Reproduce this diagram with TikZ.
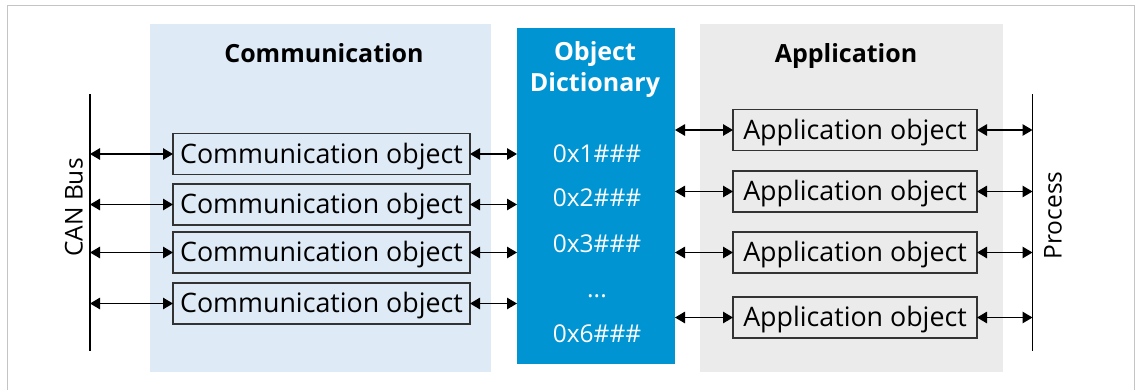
\documentclass[tikz,border=0pt]{standalone}
\usepackage{fontspec}
\setmainfont{Open Sans}
\usetikzlibrary{arrows.meta}
\definecolor{commbg}{HTML}{DEEAF6}
\definecolor{appbg}{HTML}{EBEBEB}
\definecolor{odblue}{HTML}{0094D2}
\definecolor{boxline}{HTML}{333333}
\definecolor{framegray}{HTML}{C4C4C4}
\begin{document}
\begin{tikzpicture}[x=1pt,y=-1pt,
  panel/.style={inner sep=0pt, outer sep=0pt, draw=none},
  heading/.style={font=\bfseries\fontsize{25}{30}\selectfont, anchor=base, inner sep=0pt},
  odtext/.style={text=white, font=\fontsize{24.5}{30}\selectfont, anchor=base, inner sep=0pt},
  objbox/.style={draw=boxline, line width=1.3pt, minimum height=41pt, inner sep=0pt, outer sep=0pt,
    text height=20pt, text depth=2pt, font=\fontsize{26.8}{30}\selectfont},
  sidelabel/.style={font=\fontsize{24.5}{30}\selectfont, rotate=90, anchor=base, inner sep=0pt},
  busline/.style={line width=1.8pt, black},
  conn/.style={line width=1.2pt, black, {Triangle[length=10pt,width=11.5pt]}-{Triangle[length=10pt,width=11.5pt]}}
]
\useasboundingbox (0,0) rectangle (1138,389);
% outer frame
\draw[framegray, line width=1.6pt] (7.5,5.5) rectangle (1134.5,400);

% panels
\node[panel, fill=commbg, minimum width=341pt, minimum height=348pt] (comm) at (320.5,198) {};
\node[panel, fill=appbg, minimum width=303pt, minimum height=348pt] (app) at (851.5,198) {};
\node[panel, fill=odblue, minimum width=158pt, minimum height=336pt] (od) at (596,196) {};

% headings
\node[heading] (commtitle) at (324,62) {Communication};
\node[heading] (apptitle) at (846,62) {Application};
\node[heading, text=white] (odtitle1) at (595,60) {Object};
\node[heading, text=white] (odtitle2) at (595,91) {Dictionary};

% OD entries
\node[odtext] (h1) at (597,162) {0x1\#\#\#};
\node[odtext] (h2) at (597,206) {0x2\#\#\#};
\node[odtext] (h3) at (597,252) {0x3\#\#\#};
\node[odtext] (hd) at (597,297) {...};
\node[odtext] (h6) at (597,342) {0x6\#\#\#};

% bus lines
\coordinate (busT) at (90,94);
\coordinate (busB) at (90,351);
\coordinate (procT) at (1032.5,94);
\coordinate (procB) at (1032.5,351);
\draw[busline] (busT) -- (busB);
\draw[busline] (procT) -- (procB);
\node[sidelabel] (canlabel) at (82.5,207.5) {CAN Bus};
\node[sidelabel] (proclabel) at (1061.5,215.5) {Process};

% communication objects
\node[objbox, minimum width=297pt] (c1) at (321.5,154) {Communication object};
\node[objbox, minimum width=297pt] (c2) at (321.5,204.5) {Communication object};
\node[objbox, minimum width=297pt] (c3) at (321.5,252.5) {Communication object};
\node[objbox, minimum width=297pt] (c4) at (321.5,303.5) {Communication object};

% application objects
\node[objbox, minimum width=244pt] (a1) at (855,130) {Application object};
\node[objbox, minimum width=244pt] (a2) at (855,191.5) {Application object};
\node[objbox, minimum width=244pt] (a3) at (855,252.5) {Application object};
\node[objbox, minimum width=244pt] (a4) at (855,317.5) {Application object};

% connectors
\foreach \i in {1,2,3,4}{
  \draw[conn] (busT |- c\i.west) -- (c\i.west);
  \draw[conn] (c\i.east) -- (od.west |- c\i.east);
  \draw[conn] (od.east |- a\i.west) -- (a\i.west);
  \draw[conn] (a\i.east) -- (procT |- a\i.east);
}
\end{tikzpicture}
\end{document}
